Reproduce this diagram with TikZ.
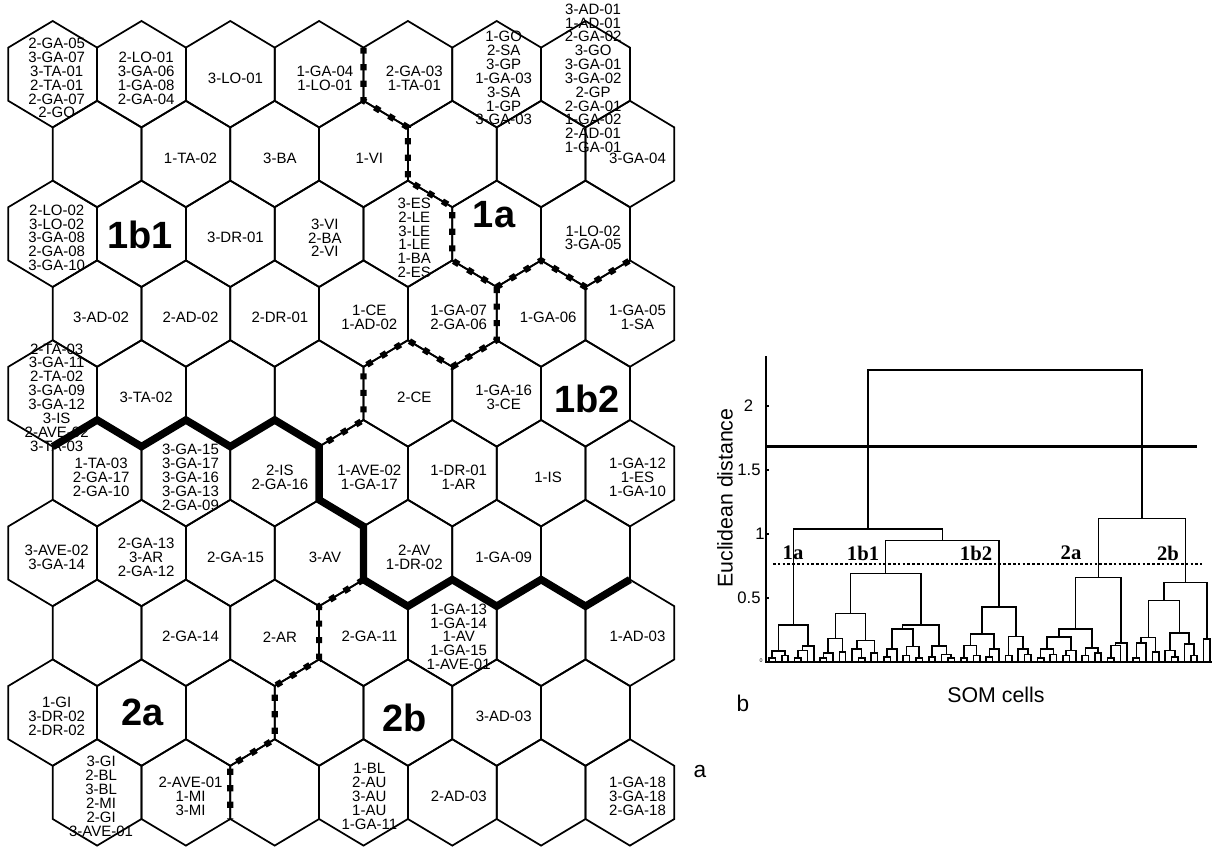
\documentclass[tikz,border=0pt]{standalone}
\usepackage{fontspec}
\setmainfont{Liberation Sans}
\newfontfamily\serifbf{Liberation Serif}
\usetikzlibrary{calc}

\begin{document}
\begin{tikzpicture}[x=0.75pt,y=-0.75pt,
 hexline/.style={line width=1.3pt,line join=miter},
 cell/.style={inner sep=0pt,align=center,font=\fontsize{11.25}{10.38}\selectfont},
 big/.style={inner sep=0pt,font=\fontsize{28.5}{30}\selectfont\bfseries},
 thickcut/.style={line width=5.6pt,line join=miter},
 dashcut/.style={line width=4.6pt,dash pattern=on 4.6pt off 7.8pt},
 dendro/.style={line width=1.2pt},
 cutline/.style={line width=2.3pt},
 cutdots/.style={line width=2pt,dash pattern=on 2pt off 1.6pt},
 ticklab/.style={inner sep=0pt,font=\fontsize{12.5}{14}\selectfont},
 grp/.style={inner sep=0pt,font=\fontsize{15.5}{17}\selectfont\serifbf\bfseries},
 axlabel/.style={inner sep=0pt,font=\fontsize{16}{18}\selectfont},
 panel/.style={inner sep=0pt,font=\fontsize{17}{19}\selectfont}]
\useasboundingbox (0,0) rectangle (1212,848);

% SOM map, 7 x 10 hexagons
\foreach \row in {1,...,10}
 \foreach \col in {1,...,7}{
 \pgfmathsetmacro\hx{52.7+88.8*(\col-1)+44.4*(1-mod(\row,2))}
 \pgfmathsetmacro\hy{74.2+79.8*(\row-1)}
 \draw[hexline] (\hx,\hy) +(0,-53.2) -- +(44.4,-26.6) -- +(44.4,26.6)
 -- +(0,53.2) -- +(-44.4,26.6) -- +(-44.4,-26.6) -- cycle;
 }

% cell contents
\foreach \row/\col/\txt in {
 1/1/{2-GA-05\\3-GA-07\\3-TA-01\\2-TA-01\\2-GA-07\\2-GO},
 1/2/{2-LO-01\\3-GA-06\\1-GA-08\\2-GA-04},
 1/3/{3-LO-01}, 1/4/{1-GA-04\\1-LO-01}, 1/5/{2-GA-03\\1-TA-01},
 1/6/{1-GO\\2-SA\\3-GP\\1-GA-03\\3-SA\\1-GP\\3-GA-03},
 1/7/{3-AD-01\\1-AD-01\\2-GA-02\\3-GO\\3-GA-01\\3-GA-02\\2-GP\\2-GA-01\\1-GA-02\\2-AD-01\\1-GA-01},
 2/2/{1-TA-02}, 2/3/{3-BA}, 2/4/{1-VI}, 2/7/{3-GA-04},
 3/1/{2-LO-02\\3-LO-02\\3-GA-08\\2-GA-08\\3-GA-10},
 3/3/{3-DR-01}, 3/4/{3-VI\\2-BA\\2-VI},
 3/5/{3-ES\\2-LE\\3-LE\\1-LE\\1-BA\\2-ES}, 3/7/{1-LO-02\\3-GA-05},
 4/1/{3-AD-02}, 4/2/{2-AD-02}, 4/3/{2-DR-01}, 4/4/{1-CE\\1-AD-02},
 4/5/{1-GA-07\\2-GA-06}, 4/6/{1-GA-06}, 4/7/{1-GA-05\\1-SA},
 5/1/{2-TA-03\\3-GA-11\\2-TA-02\\3-GA-09\\3-GA-12\\3-IS\\2-AVE-02\\3-TA-03},
 5/2/{3-TA-02}, 5/5/{2-CE}, 5/6/{1-GA-16\\3-CE},
 6/1/{1-TA-03\\2-GA-17\\2-GA-10}, 6/2/{3-GA-15\\3-GA-17\\3-GA-16\\3-GA-13\\2-GA-09},
 6/3/{2-IS\\2-GA-16}, 6/4/{1-AVE-02\\1-GA-17}, 6/5/{1-DR-01\\1-AR},
 6/6/{1-IS}, 6/7/{1-GA-12\\1-ES\\1-GA-10},
 7/1/{3-AVE-02\\3-GA-14}, 7/2/{2-GA-13\\3-AR\\2-GA-12}, 7/3/{2-GA-15},
 7/4/{3-AV}, 7/5/{2-AV\\1-DR-02}, 7/6/{1-GA-09},
 8/2/{2-GA-14}, 8/3/{2-AR}, 8/4/{2-GA-11},
 8/5/{1-GA-13\\1-GA-14\\1-AV\\1-GA-15\\1-AVE-01}, 8/7/{1-AD-03},
 9/1/{1-GI\\3-DR-02\\2-DR-02}, 9/6/{3-AD-03},
 10/1/{3-GI\\2-BL\\3-BL\\2-MI\\2-GI\\3-AVE-01}, 10/2/{2-AVE-01\\1-MI\\3-MI},
 10/4/{1-BL\\2-AU\\3-AU\\1-AU\\1-GA-11}, 10/5/{2-AD-03},
 10/7/{1-GA-18\\3-GA-18\\2-GA-18}}{
 \pgfmathsetmacro\hx{52.7+88.8*(\col-1)+44.4*(1-mod(\row,2))}
 \pgfmathsetmacro\hy{74.2+79.8*(\row-1)}
 \node[cell] (cell-\row-\col) at ({\hx+4+0.6*(\col-1)},{\hy+4}) {\txt};
 }

% cluster names on the map
\node[big] (m1b1) at (140,235) {1b1};
\node[big] (m1a) at (494,215) {1a};
\node[big] (m1b2) at (587,399) {1b2};
\node[big] (m2a) at (143,712.5) {2a};
\node[big] (m2b) at (405,717.5) {2b};

% cluster borders
\draw[dashcut] (363.5,47.6) -- (363.5,100.8) -- (407.9,127.4) -- (407.9,180.6)
 -- (452.3,207.2) -- (452.3,260.4) -- (496.7,287) -- (541.1,260.4)
 -- (585.5,287) -- (629.9,260.4);
\draw[dashcut] (496.7,287) -- (496.7,340.2) -- (452.3,366.8) -- (407.9,340.2)
 -- (363.5,366.8) -- (363.5,420) -- (319.1,446.6);
\draw[dashcut] (363.5,579.6) -- (319.1,606.2) -- (319.1,659.4) -- (274.7,686)
 -- (274.7,739.2) -- (230.3,765.8) -- (230.3,819);
\draw[thickcut] (52.7,446.6) -- (97.1,420) -- (141.5,446.6) -- (185.9,420)
 -- (230.3,446.6) -- (274.7,420) -- (319.1,446.6) -- (319.1,499.8)
 -- (363.5,526.4) -- (363.5,579.6) -- (407.9,606.2) -- (452.3,579.6)
 -- (496.7,606.2) -- (541.1,579.6) -- (585.5,606.2) -- (629.9,579.6);

\node[panel] (pa) at (700,772) {a};

% dendrogram
\begin{scope}[shift={(766,662)},yscale=-128]
 \foreach \i in {1,...,70} \coordinate (l\i) at ({3+6.39*(\i-1)},0);
 \foreach \n/\a/\b/\h in {
 n1/l1/l2/0.03, n2/l3/l4/0.05, n3/n1/n2/0.088, n4/l5/l6/0.03,
 n5/n4/l7/0.09, n6/n5/l8/0.127, c1a/n3/n6/0.29,
 n7/l9/l10/0.03, n8/n7/l11/0.07, n9/l12/l13/0.08, n10/n8/n9/0.185,
 n11/l15/l16/0.03, n12/l14/n11/0.1, n13/l17/l18/0.07, n14/n12/n13/0.167,
 n15/n10/n14/0.38,
 n16/l19/l20/0.04, n17/n16/l21/0.1, n18/l22/l23/0.05, n19/l24/l25/0.03,
 n20/n18/n19/0.12, n21/n17/n20/0.26, n22/l26/l27/0.04, n23/l29/l30/0.03,
 n24/l28/n23/0.06, n25/n22/n24/0.125, n26/n21/n25/0.29,
 c1b1/n15/n26/0.69,
 n27/l31/l32/0.03, n28/l33/l34/0.05, n29/n27/n28/0.13, n30/l35/l36/0.04,
 n31/n30/l37/0.1, n32/n29/n31/0.22, n33/l38/l39/0.05, n34/l41/l42/0.06,
 n35/l40/n34/0.1, n36/n33/n35/0.2, c1b2/n32/n36/0.43,
 c1b/c1b1/c1b2/0.95, c1/c1a/c1b/1.04,
 n37/l43/l44/0.03, n38/l45/l46/0.06, n39/n37/n38/0.1, n40/l47/l48/0.05,
 n41/n40/l49/0.09, n42/n39/n41/0.195, n43/l50/l51/0.05, n44/l52/l53/0.07,
 n45/n43/n44/0.11, n46/n42/n45/0.26, n47/l54/l55/0.03, n48/n47/l56/0.13,
 n49/n48/l57/0.15, c2a/n46/n49/0.66,
 n50/l58/l59/0.03, n51/n50/l60/0.15, n52/l61/l62/0.08, n53/n51/n52/0.19,
 n54/l64/l65/0.04, n55/l63/n54/0.09, n56/l67/l68/0.05, n57/l66/n56/0.14,
 n58/n55/n57/0.225, n59/n53/n58/0.48, n60/l69/l70/0.18, c2b/n59/n60/0.62,
 c2/c2a/c2b/1.12, root/c1/c2/2.28}{
 \coordinate (mid) at ($(\a)!.5!(\b)$);
 \coordinate (lev) at (0,\h);
 \coordinate (\n) at (mid |- lev);
 \draw[dendro] (\a) |- (\n) -| (\b);
 }
 \draw[dendro] (0,2.39) -- (0,0) -- (446,0);
 \foreach \v in {0.5,1,1.5,2} \draw[dendro] (0,\v) -- (3,\v);
 \node[ticklab] (t2) at (-17.5,2) {2};
 \node[ticklab] (t15) at (-17,1.5) {1.5};
 \node[ticklab] (t1) at (-6,1) {1};
 \node[ticklab] (t05) at (-17,0.5) {0.5};
 \node[inner sep=0pt,font=\fontsize{4}{4}\selectfont] (t0) at (-5,0.01) {0};
 \draw[cutline] (0,1.68) -- (431,1.68);
 \draw[cutdots] (7,0.766) -- (436,0.766);
 \node[grp] (g1a) at (27,0.85) {1a};
 \node[grp] (g1b1) at (97,0.85) {1b1};
 \node[grp] (g1b2) at (210,0.85) {1b2};
 \node[grp] (g2a) at (305,0.85) {2a};
 \node[grp] (g2b) at (402,0.85) {2b};
\end{scope}
\node[axlabel,rotate=90] (ylab) at (725,498) {Euclidean distance};
\node[axlabel] (xlab) at (996,695) {SOM cells};
\node[panel] (pb) at (743,703) {b};
\end{tikzpicture}
\end{document}
